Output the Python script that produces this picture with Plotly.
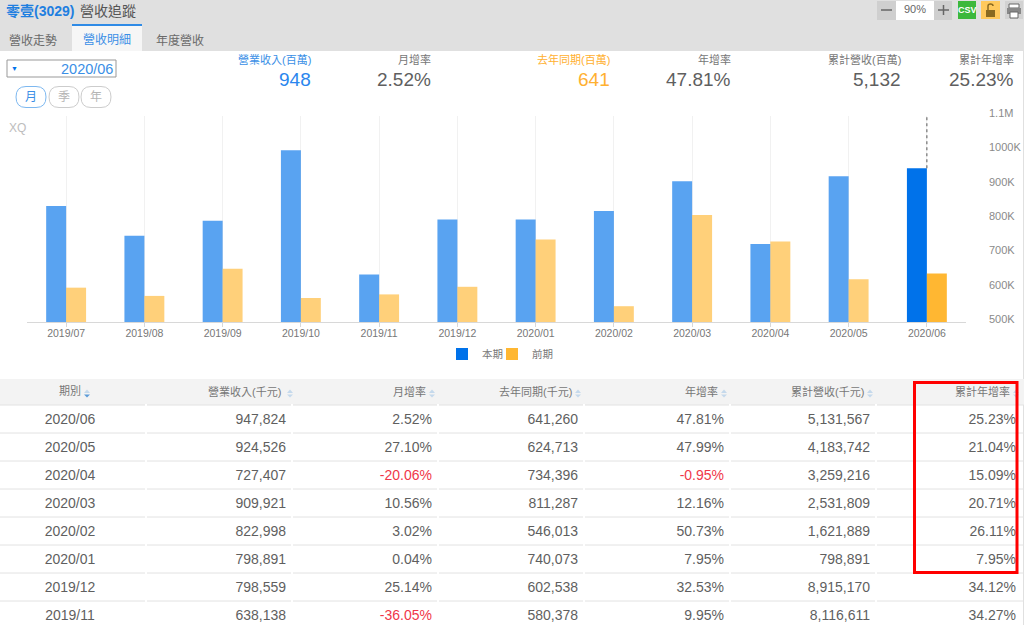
import plotly.graph_objects as go

# chart data
months = ['2019/07', '2019/08', '2019/09', '2019/10', '2019/11', '2019/12',
          '2020/01', '2020/02', '2020/03', '2020/04', '2020/05', '2020/06']
current = [838000, 751000, 795000, 1000000, 638138, 798559,
           798891, 822998, 909921, 727407, 924526, 947824]
previous = [600000, 576000, 655000, 570000, 580378, 602538,
            740073, 546013, 811287, 734396, 624713, 641260]
y_ticks = [500000, 600000, 700000, 800000, 900000, 1000000, 1100000]
y_labels = ['500K', '600K', '700K', '800K', '900K', '1000K', '1.1M']

# table data
col_period = ['2020/06', '2020/05', '2020/04', '2020/03', '2020/02', '2020/01', '2019/12', '2019/11']
col_revenue = ['947,824', '924,526', '727,407', '909,921', '822,998', '798,891', '798,559', '638,138']
col_mom = ['2.52%', '27.10%', '-20.06%', '10.56%', '3.02%', '0.04%', '25.14%', '-36.05%']
col_last_year = ['641,260', '624,713', '734,396', '811,287', '546,013', '740,073', '602,538', '580,378']
col_yoy = ['47.81%', '47.99%', '-0.95%', '12.16%', '50.73%', '7.95%', '32.53%', '9.95%']
col_cum = ['5,131,567', '4,183,742', '3,259,216', '2,531,809', '1,621,889', '798,891', '8,915,170', '8,116,611']
col_cum_yoy = ['25.23%', '21.04%', '15.09%', '20.71%', '26.11%', '7.95%', '34.12%', '34.27%']
headers = ['期別', '營業收入(千元)', '月增率', '去年同期(千元)', '年增率', '累計營收(千元)', '累計年增率']

# summary row above the chart
stat_names = ['營業收入(百萬)', '月增率', '去年同期(百萬)', '年增率', '累計營收(百萬)', '累計年增率']
stat_values = ['948', '2.52%', '641', '47.81%', '5,132', '25.23%']

W, H = 1024, 625
FONT = 'Liberation Sans, Noto Sans CJK TC, sans-serif'
BLUE = '#0072ea'
ORANGE = '#ffb732'
TEXT = '#5f5f5f'


def px(x):
    return x / W


def py(y):
    return 1 - y / H


shapes = []
notes = []


def rect(x0, y0, x1, y1, fill='rgba(0,0,0,0)', line=None, width=1, layer='below'):
    shapes.append(dict(type='rect', xref='paper', yref='paper', x0=px(x0), x1=px(x1), y0=py(y0), y1=py(y1),
                       fillcolor=fill, line=dict(color=line or 'rgba(0,0,0,0)', width=width if line else 0),
                       layer=layer))


def rule(x0, y0, x1, y1, color, width=1, dash='solid', layer='below'):
    shapes.append(dict(type='line', xref='paper', yref='paper', x0=px(x0), x1=px(x1), y0=py(y0), y1=py(y1),
                       line=dict(color=color, width=width, dash=dash), layer=layer))


def text(x, y, s, size=12, color=TEXT, anchor='left'):
    # annotations carry about 2px of padding around the text
    nudge = {'left': -2, 'right': 2, 'center': 0}[anchor]
    notes.append(dict(xref='paper', yref='paper', x=px(x + nudge), y=py(y), text=s, showarrow=False,
                      xanchor=anchor, yanchor='middle', font=dict(family=FONT, size=size, color=color)))


def pt(x, y):
    return f'{px(x)},{py(y)}'


def pill(cx, cy, color):
    # rounded month / quarter / year button
    path = f'M{pt(cx - 5, cy - 10.5)} L{pt(cx + 5, cy - 10.5)} Q{pt(cx + 15, cy - 10.5)} {pt(cx + 15, cy)} ' \
           f'Q{pt(cx + 15, cy + 10.5)} {pt(cx + 5, cy + 10.5)} L{pt(cx - 5, cy + 10.5)} ' \
           f'Q{pt(cx - 15, cy + 10.5)} {pt(cx - 15, cy)} Q{pt(cx - 15, cy - 10.5)} {pt(cx - 5, cy - 10.5)} Z'
    shapes.append(dict(type='path', xref='paper', yref='paper', path=path, line=dict(color=color, width=1),
                       fillcolor='rgba(0,0,0,0)', layer='below'))


def triangle(cx, tip_y, base_y, color):
    # sort arrow in the table header
    path = f'M{pt(cx - 3, base_y)} L{pt(cx + 3, base_y)} L{pt(cx, tip_y)} Z'
    shapes.append(dict(type='path', xref='paper', yref='paper', path=path, fillcolor=color,
                       line=dict(width=0), layer='below'))


# top bar and tabs
rect(0, 0, 1024, 51, '#e0e0e0')
rect(72, 25, 142, 51, '#f6f6f6')
rule(72, 25, 142, 25, '#2f8be6', 2)
rect(1023, 51, 1024, H, '#e0e0e0')
text(6, 11, '<b><span style="color:#1f7fe0">零壹(3029)</span></b>', 14)
text(80, 11, '營收追蹤', 14, '#555555')
text(9, 40, '營收走勢', 12, '#6a6a6a')
text(83, 40, '營收明細', 12, '#3b8fe6')
text(156, 40, '年度營收', 12, '#6a6a6a')

# zoom and tool buttons
rect(877, 1, 896, 20, '#cfcfcf')
rect(896, 1, 934, 20, '#ffffff')
rect(934, 1, 952, 20, '#cfcfcf')
rule(881, 10, 892, 10, '#666666', 1.5)
rule(938, 10, 949, 10, '#666666', 1.5)
rule(943.5, 5, 943.5, 15, '#666666', 1.5)
text(915, 9, '90%', 11, '#666666', 'center')
rect(958, 1, 976, 19, '#3cb83c')
text(967, 10, '<b>CSV</b>', 9, '#ffffff', 'center')
rect(981, 1, 1000, 19, '#ffc95c')
rect(986, 10, 995, 17, '#8a6a20')
shapes.append(dict(type='path', xref='paper', yref='paper',
                   path=f'M{pt(988, 10)} L{pt(988, 6)} Q{pt(988, 4)} {pt(990.5, 4)} Q{pt(993, 4)} {pt(993, 6)}',
                   line=dict(color='#8a6a20', width=1.5), layer='below'))
rect(1005, 1, 1023, 19, '#d2d2d2')
rect(1009, 4, 1019, 8, '#ffffff', '#666666')
rect(1007, 8, 1021, 14, '#888888')
rect(1010, 12, 1018, 18, '#ffffff', '#666666')

# period selector
rect(7, 60, 116, 77, '#ffffff', '#999999')
text(11, 68, '▼', 7, BLUE)
text(113, 69, '2020/06', 14.5, '#3b8fe6', 'right')
pill(31, 97, '#7db8f0')
pill(64, 97, '#cccccc')
pill(96, 97, '#cccccc')
text(31, 97, '月', 12, '#3b8fe6', 'center')
text(64, 97, '季', 12, '#b5b5b5', 'center')
text(96, 97, '年', 12, '#b5b5b5', 'center')

# summary figures
stat_right = [311, 431, 610, 731, 901, 1014]
stat_colors = ['#2a86ee', TEXT, '#ffb030', TEXT, TEXT, TEXT]
name_colors = ['#3b8fe6', '#777777', '#ffb030', '#777777', '#777777', '#777777']
for i, (name, val) in enumerate(zip(stat_names, stat_values)):
    text(stat_right[i], 59, name, 11, name_colors[i], 'right')
    text(stat_right[i], 79, val, 19, stat_colors[i], 'right')

text(9, 128, 'XQ', 12, '#bdbdbd')

# table header band and row rules, the rules break at each column edge
rect(0, 379, 1024, 405, '#f3f3f3')
for i in range(8):
    rule(0, 405 + 28 * i, 1024, 405 + 28 * i, '#e2e2e2')
    for gap in [145, 291, 437, 583, 729, 875]:
        rect(gap, 404 + 28 * i, gap + 2, 406 + 28 * i, '#ffffff')

# header labels are annotations: the table will not make its header row thin enough
text(70, 391, headers[0], 11, '#777777', 'center')
header_right = [281, 426, 572, 718, 864, 1010]
for name, hx in zip(headers[1:], header_right):
    text(hx, 391, name, 11, '#777777', 'right')

# sort arrows next to the headers
arrow_x = [87, 290, 432, 578, 724, 870, 1016]
for ax in arrow_x:
    triangle(ax, 389.5, 393, '#c5d9ec')
    triangle(ax, 397.5, 394.5, '#5c9bd8' if ax == 87 else '#c5d9ec')

# red highlight on the last column
rect(914.5, 382.5, 1017, 572.5, line='#ff0000', width=3, layer='above')

fig = go.Figure()

fig.add_trace(go.Bar(x=months, y=[v - y_ticks[0] for v in current], base=y_ticks[0], name='本期', legend='legend',
                     marker=dict(color=BLUE, line=dict(width=0)),
                     selectedpoints=[11], selected=dict(marker=dict(opacity=1)),
                     unselected=dict(marker=dict(opacity=0.65)),
                     hoverinfo='skip', showlegend=True))
fig.add_trace(go.Bar(x=months, y=[v - y_ticks[0] for v in previous], base=y_ticks[0], name='前期', legend='legend2',
                     marker=dict(color=ORANGE, line=dict(width=0)),
                     selectedpoints=[11], selected=dict(marker=dict(opacity=1)),
                     unselected=dict(marker=dict(opacity=0.65)),
                     hoverinfo='skip', showlegend=True))

# crosshair on the latest month
shapes.append(dict(type='line', xref='x', yref='y', x0=months[-1], x1=months[-1],
                   y0=current[-1], y1=y_ticks[-1], line=dict(color='#555555', width=1, dash='dot')))

red = '#f0374a'
neg = lambda col: [red if v.startswith('-') else TEXT for v in col]
columns = [col_period, col_revenue, col_mom, col_last_year, col_yoy, col_cum, col_cum_yoy]
fig.add_trace(go.Table(
    domain=dict(x=[0, 1], y=[0, py(389)]),
    columnwidth=[140, 154, 146, 146, 146, 146, 146],
    header=dict(values=[], height=0, line=dict(width=0), fill=dict(color='rgba(0,0,0,0)')),
    cells=dict(values=columns, height=28, align=['center'] + ['right'] * 6,
               fill=dict(color='rgba(0,0,0,0)'), line=dict(color='rgba(0,0,0,0)', width=0),
               font=dict(family=FONT, size=14,
                         color=[[TEXT] * 8, [TEXT] * 8, neg(col_mom), [TEXT] * 8, neg(col_yoy), [TEXT] * 8, [TEXT] * 8])),
))

legend_font = dict(family=FONT, size=10.5, color='#777777')
clear = 'rgba(0,0,0,0)'
fig.update_layout(
    width=W, height=H,
    margin=dict(l=0, r=0, t=0, b=0, autoexpand=False),
    paper_bgcolor='#ffffff',
    plot_bgcolor=clear,
    barmode='group',
    bargap=0.49,
    bargroupgap=0,
    font=dict(family=FONT),
    shapes=shapes,
    annotations=notes,
    legend=dict(x=px(442), y=py(354), xanchor='left', yanchor='middle', font=legend_font, bgcolor=clear,
                entrywidth=30, entrywidthmode='pixels', itemclick=False, itemdoubleclick=False),
    legend2=dict(x=px(492), y=py(354), xanchor='left', yanchor='middle', font=legend_font, bgcolor=clear,
                 entrywidth=30, entrywidthmode='pixels', itemclick=False, itemdoubleclick=False),
    xaxis=dict(domain=[px(27), px(966)], anchor='y', type='category', categoryorder='array', categoryarray=months,
               range=[-0.5, 11.5], showgrid=True, gridcolor='#f1f1f1', showline=True, linecolor='#d8d8d8',
               ticks='outside', ticklen=4, tickcolor='#d8d8d8', fixedrange=True, automargin=False,
               ticklabelstandoff=-3,
               tickfont=dict(family=FONT, size=10.5, color='#777777')),
    yaxis=dict(domain=[py(322), py(116)], anchor='x', side='right', range=[y_ticks[0], y_ticks[-1]],
               tickvals=y_ticks, ticktext=y_labels, showgrid=False, zeroline=False, fixedrange=True, automargin=False,
               ticklabelstandoff=22, ticklabelshift=-3,
               tickfont=dict(family=FONT, size=11, color='#8a8a8a')),
)

fig.write_html('out.html', config=dict(displayModeBar=False),
               post_script="document.body.style.margin='0';document.documentElement.style.overflow='hidden';")
